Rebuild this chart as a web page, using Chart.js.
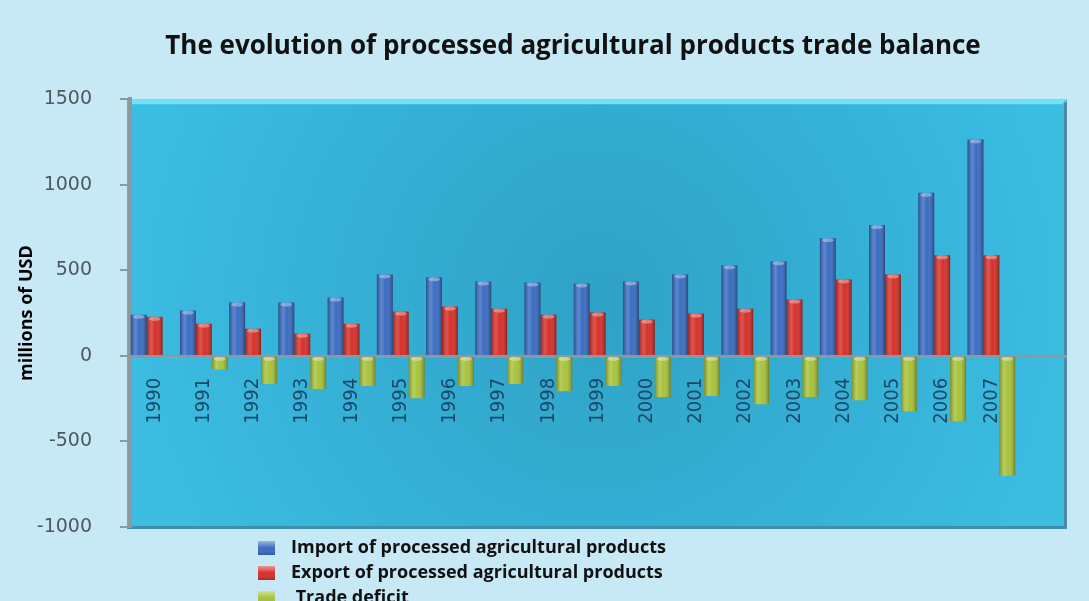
<!DOCTYPE html>
<html>
<head>
<meta charset="utf-8">
<title>Processed agricultural products trade balance</title>
<script src="https://cdn.jsdelivr.net/npm/chart.js@4.4.1/dist/chart.umd.min.js"></script>
<style>
    html, body { margin: 0; padding: 0; background: #c6e9f5; }
    #wrap { width: 1089px; height: 601px; position: relative; overflow: hidden; }
</style>
</head>
<body>
<div id="wrap"><canvas id="tradeChart" width="1089" height="601"></canvas></div>
<script>
// Chart data (millions of USD)
const years = ['1990', '1991', '1992', '1993', '1994', '1995', '1996', '1997', '1998',
               '1999', '2000', '2001', '2002', '2003', '2004', '2005', '2006', '2007'];
const importValues = [240, 265, 312, 312, 341, 476, 459, 435, 429, 423, 435, 476, 529, 553, 688, 765, 953, 1265];
const exportValues = [228, 188, 159, 130, 188, 259, 288, 276, 241, 253, 212, 247, 276, 329, 447, 476, 588, 588];
const deficitValues = [-10, -80, -165, -194, -176, -247, -176, -165, -206, -176, -241, -235, -282, -241, -259, -324, -382, -700];
const yTicks = [-1000, -500, 0, 500, 1000, 1500];

const seriesLabels = ['Import of processed agricultural products', 'Export of processed agricultural products', ' Trade deficit'];
const seriesColors = ['#3a6cc2', '#d63029', '#a8c23a'];

// Extra width of the blue back wall to the right of the last category
const WALL_EXTRA = 51;

// Page background, plot "wall" and zero line
const backdropPlugin = {
    id: 'backdrop',
    beforeDraw(chart) {
        const ctx = chart.ctx;
        const area = chart.chartArea;
        ctx.save();
        ctx.fillStyle = '#c6e9f5';
        ctx.fillRect(0, 0, chart.width, chart.height);

        const left = area.left - 3;
        const right = area.right + WALL_EXTRA;
        const grad = ctx.createRadialGradient(600, 300, 20, 600, 300, 480);
        grad.addColorStop(0, '#2fa3c6');
        grad.addColorStop(0.6, '#36b2d8');
        grad.addColorStop(1, '#3cbde2');
        ctx.fillStyle = grad;
        ctx.fillRect(left, area.top, right - left, area.bottom - area.top);

        // top bevel
        ctx.fillStyle = '#6fe4f9';
        ctx.beginPath();
        ctx.moveTo(left, area.top);
        ctx.lineTo(right, area.top);
        ctx.lineTo(right - 5, area.top + 5);
        ctx.lineTo(left + 5, area.top + 5);
        ctx.closePath();
        ctx.fill();
        // right shadow
        ctx.fillStyle = '#4f8ba2';
        ctx.fillRect(right - 3, area.top + 3, 3, area.bottom - area.top - 2);
        // bottom edge
        ctx.fillStyle = '#3d8fad';
        ctx.fillRect(left, area.bottom - 1, right - left, 3);

        // zero line
        const y0 = chart.scales.y.getPixelForValue(0);
        ctx.fillStyle = '#8c9aa0';
        ctx.fillRect(left, y0 - 1, right - left, 3);
        ctx.restore();
    }
};

// Cylinder shading on top of the flat bars
const shadingPlugin = {
    id: 'shading',
    afterDatasetsDraw(chart) {
        const ctx = chart.ctx;
        ctx.save();
        chart.data.datasets.forEach((ds, i) => {
            chart.getDatasetMeta(i).data.forEach(bar => {
                const w = bar.width;
                const left = bar.x - w / 2;
                const top = Math.min(bar.y, bar.base);
                const h = Math.abs(bar.y - bar.base);
                if (h < 1) return;
                const g = ctx.createLinearGradient(left, 0, left + w, 0);
                g.addColorStop(0, 'rgba(0,0,0,0.28)');
                g.addColorStop(0.3, 'rgba(255,255,255,0.18)');
                g.addColorStop(0.55, 'rgba(255,255,255,0)');
                g.addColorStop(1, 'rgba(0,0,0,0.35)');
                ctx.fillStyle = g;
                ctx.fillRect(left, top, w, h);
                // small cap highlight
                ctx.fillStyle = 'rgba(255,255,255,0.35)';
                ctx.beginPath();
                ctx.ellipse(bar.x, top + 2, w / 2 - 2, 2, 0, 0, Math.PI * 2);
                ctx.fill();
            });
        });
        ctx.restore();
    }
};

// Vertical legend under the plot
const legendPlugin = {
    id: 'stackedLegend',
    afterDraw(chart) {
        const ctx = chart.ctx;
        ctx.save();
        ctx.font = 'bold 18px "Open Sans"';
        ctx.textBaseline = 'middle';
        chart.data.datasets.forEach((ds, i) => {
            const cy = 548 + i * 25;
            const g = ctx.createLinearGradient(0, cy - 7, 0, cy + 7);
            g.addColorStop(0, 'rgba(255,255,255,0.5)');
            g.addColorStop(0.5, 'rgba(255,255,255,0)');
            g.addColorStop(1, 'rgba(0,0,0,0.2)');
            ctx.fillStyle = ds.backgroundColor;
            ctx.fillRect(258, cy - 7, 17, 14);
            ctx.fillStyle = g;
            ctx.fillRect(258, cy - 7, 17, 14);
            ctx.fillStyle = '#111';
            ctx.fillText(ds.label, 291, cy);
        });
        ctx.restore();
    }
};

const ctx = document.getElementById('tradeChart');

new Chart(ctx, {
    type: 'bar',
    data: {
        labels: years,
        datasets: [
            { label: seriesLabels[0], data: importValues, backgroundColor: seriesColors[0] },
            { label: seriesLabels[1], data: exportValues, backgroundColor: seriesColors[1] },
            { label: seriesLabels[2], data: deficitValues, backgroundColor: seriesColors[2] }
        ]
    },
    options: {
        responsive: false,
        animation: false,
        devicePixelRatio: 1,
        categoryPercentage: 0.97,
        barPercentage: 1.0,
        layout: { padding: { left: 6, right: 73, top: 0, bottom: 74 } },
        plugins: {
            legend: { display: false },
            tooltip: { enabled: false },
            title: {
                display: true,
                fullSize: false,
                text: 'The evolution of processed agricultural products trade balance',
                color: '#111',
                font: { family: 'Open Sans', size: 26, weight: 'bold' },
                padding: { top: 31, bottom: 37 }
            }
        },
        scales: {
            x: {
                position: { y: 0 },
                grid: { display: false, drawTicks: false },
                border: { display: false },
                ticks: {
                    autoSkip: false,
                    minRotation: 90,
                    maxRotation: 90,
                    padding: 22,
                    color: '#1b4868',
                    font: { family: '"Liberation Sans Narrow", "DejaVu Sans Condensed", Roboto', size: 20 }
                }
            },
            y: {
                min: -1000,
                max: 1500,
                afterBuildTicks: scale => {
                    scale.ticks = yTicks.map(v => ({ value: v }));
                },
                afterFit: scale => {
                    scale.width = 124;
                },
                grid: { drawOnChartArea: false, tickLength: 10, color: '#8c9aa0', lineWidth: 2 },
                border: { color: '#8c9aa0', width: 4 },
                ticks: {
                    padding: 28,
                    color: '#4e585e',
                    font: { family: 'DejaVu Sans', size: 19 },
                    callback: value => String(value)
                },
                title: {
                    display: true,
                    text: 'millions of USD',
                    color: '#000',
                    font: { family: 'Open Sans', size: 18, weight: 'bold' },
                    padding: { top: 10, bottom: 0 }
                }
            }
        }
    },
    plugins: [backdropPlugin, shadingPlugin, legendPlugin]
});
</script>
</body>
</html>
